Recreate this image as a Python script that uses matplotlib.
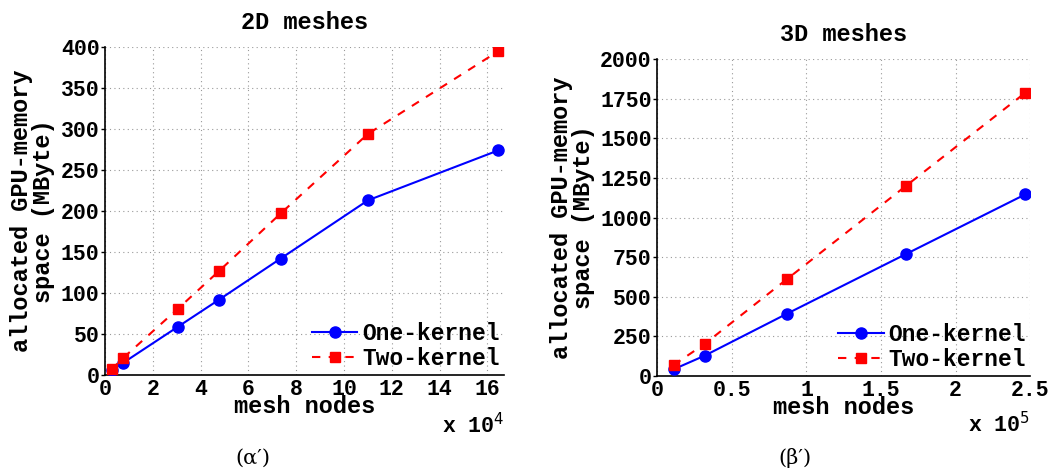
import matplotlib
matplotlib.use("Agg")
import matplotlib.pyplot as plt

# 2D meshes: mesh nodes (x 10^4) vs allocated GPU memory (MByte)
nodes_2d = [0.28, 0.77, 3.06, 4.78, 7.35, 11.0, 16.46]
one_kernel_2d = [6, 15, 59, 92, 142, 213, 274]
two_kernel_2d = [7, 21, 81, 127, 197, 294, 395]

# 3D meshes: mesh nodes (x 10^5) vs allocated GPU memory (MByte)
nodes_3d = [0.109, 0.317, 0.871, 1.669, 2.467]
one_kernel_3d = [42, 128, 394, 771, 1147]
two_kernel_3d = [69, 202, 613, 1202, 1789]

xticks_2d = [0, 2, 4, 6, 8, 10, 12, 14, 16]
yticks_2d = [0, 50, 100, 150, 200, 250, 300, 350, 400]
xticks_3d = [0, 0.5, 1, 1.5, 2, 2.5]
xticklabels_3d = ["0", "0.5", "1", "1.5", "2", "2.5"]
yticks_3d = [0, 250, 500, 750, 1000, 1250, 1500, 1750, 2000]

MONO = "Liberation Mono"

fig = plt.figure(figsize=(10.56, 4.73), dpi=100)
ax1 = fig.add_axes([0.0994, 0.2072, 0.378, 0.6934])
ax2 = fig.add_axes([0.6224, 0.2051, 0.3532, 0.6695])


def style(ax, title, xticks, xlabels, yticks, xlim, ylim, exp_label):
    ax.set_xlim(*xlim)
    ax.set_ylim(*ylim)
    ax.set_xticks(xticks)
    ax.set_xticklabels(xlabels)
    ax.set_yticks(yticks)
    ax.set_yticklabels([str(v) for v in yticks])
    for lab in ax.get_xticklabels() + ax.get_yticklabels():
        lab.set_fontfamily(MONO)
        lab.set_fontweight("bold")
        lab.set_fontsize(15.5)
    ax.tick_params(axis="both", direction="out", length=3, width=1, pad=1)
    ax.tick_params(axis="x", length=0, pad=3)
    ax.spines["top"].set_visible(False)
    ax.spines["right"].set_visible(False)
    ax.spines["left"].set_linewidth(1.2)
    ax.spines["bottom"].set_linewidth(1.2)
    ax.grid(True, linestyle=(0, (1, 3)), color="#999999", linewidth=0.8)
    ax.set_axisbelow(True)
    ax.set_title(title, fontfamily=MONO, fontweight="bold", fontsize=17, pad=13)
    ax.set_xlabel("mesh nodes", fontfamily=MONO, fontweight="bold",
                  fontsize=17, labelpad=-4)
    ax.set_ylabel("allocated GPU-memory\nspace (MByte)", fontfamily=MONO,
                  fontweight="bold", fontsize=17, linespacing=0.95, labelpad=4)
    ax.text(1.0, -0.115, "x 10$^{%s}$" % exp_label, transform=ax.transAxes,
            ha="right", va="top", fontfamily=MONO, fontweight="bold",
            fontsize=15.5)


for ax, x, one, two in [(ax1, nodes_2d, one_kernel_2d, two_kernel_2d),
                        (ax2, nodes_3d, one_kernel_3d, two_kernel_3d)]:
    ax.plot(x, one, color="#0000ff", linestyle="-", linewidth=1.5,
            marker="o", markersize=8, label="One-kernel", zorder=3)
    ax.plot(x, two, color="#ff0000", linestyle=(0, (4, 4)), linewidth=1.5,
            marker="s", markersize=7, label="Two-kernel", zorder=4)
    ax.legend(loc="lower right", bbox_to_anchor=(1.0, 0.0), frameon=False,
              prop={"family": MONO, "weight": "bold", "size": 16.5},
              handlelength=2.0, handletextpad=0.2, borderaxespad=0.0,
              borderpad=0.2, labelspacing=0.12)

style(ax1, "2D meshes", xticks_2d, [str(v) for v in xticks_2d], yticks_2d,
      (0, 16.7), (0, 400), "4")
style(ax2, "3D meshes", xticks_3d, xticklabels_3d, yticks_3d,
      (0, 2.5), (0, 2000), "5")

fig.text(253 / 1056, 1 - 458 / 473, "(\u03b1\u2032)", ha="center", va="center",
         fontfamily="DejaVu Serif", fontsize=15)
fig.text(795 / 1056, 1 - 458 / 473, "(\u03b2\u2032)", ha="center", va="center",
         fontfamily="DejaVu Serif", fontsize=15)

fig.savefig("out.png", dpi=100)
